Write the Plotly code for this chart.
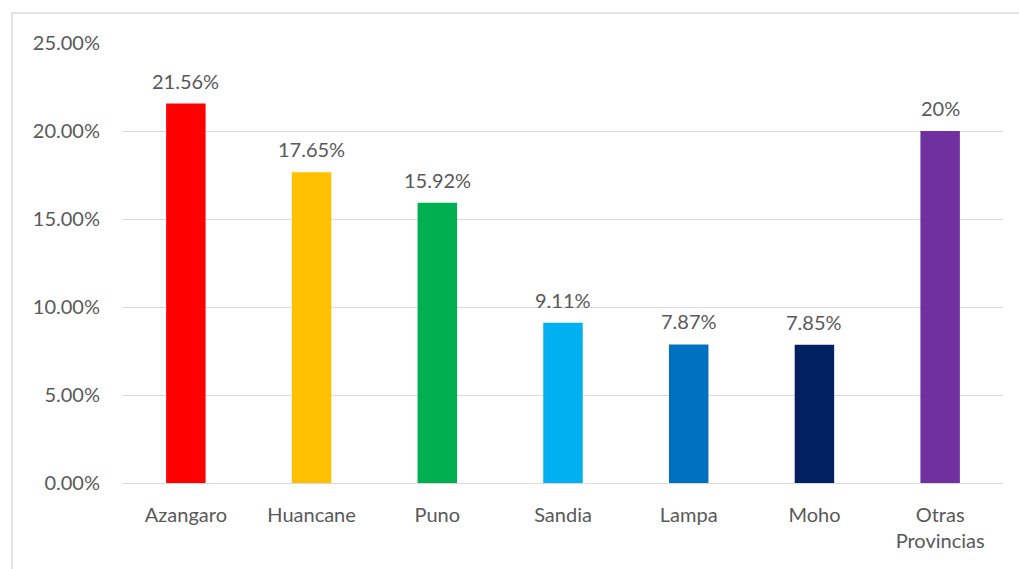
import plotly.graph_objects as go

categories = ["Azangaro", "Huancane", "Puno", "Sandia", "Lampa", "Moho", "Otras<br>Provincias"]
values = [21.56, 17.65, 15.92, 9.11, 7.87, 7.85, 20.0]
value_labels = ["21.56%", "17.65%", "15.92%", "9.11%", "7.87%", "7.85%", "20%"]
colors = ["#FF0000", "#FFC000", "#00B050", "#00B0F0", "#0070C0", "#002060", "#7030A0"]
y_ticks = [0, 5, 10, 15, 20, 25]
y_tick_labels = ["0.00%", "5.00%", "10.00%", "15.00%", "20.00%", "25.00%"]

FONT = "Lato, Open Sans, sans-serif"
GREY = "#595959"
FS = 20

fig = go.Figure(go.Bar(
    x=categories,
    y=values,
    marker=dict(color=colors, line=dict(width=0)),
    hoverinfo="x+y",
))

for c, v, t in zip(categories, values, value_labels):
    fig.add_annotation(
        x=c, y=v, text=t, showarrow=False,
        yanchor="bottom", yshift=9,
        font=dict(family=FONT, size=FS, color=GREY),
    )

fig.update_layout(
    width=1019, height=569,
    margin=dict(l=123, r=16, t=43, b=86),
    paper_bgcolor="white", plot_bgcolor="white",
    bargap=0.686,
    showlegend=False,
    font=dict(family=FONT, size=FS, color=GREY),
    xaxis=dict(
        showgrid=False, showline=False, zeroline=False,
        ticks="", ticklabelstandoff=18,
        tickfont=dict(family=FONT, size=FS, color=GREY),
    ),
    yaxis=dict(
        range=[0, 25], tickvals=y_ticks, ticktext=y_tick_labels,
        showgrid=True, gridcolor="#D9D9D9", gridwidth=1,
        zeroline=True, zerolinecolor="#D9D9D9", zerolinewidth=1,
        showline=False, ticks="", ticklabelstandoff=22,
        tickfont=dict(family=FONT, size=FS, color=GREY),
    ),
    shapes=[dict(
        type="rect", xref="paper", yref="paper",
        x0=(12 - 123) / 880, x1=1.05, y0=-0.3, y1=(483 - 13) / 440,
        line=dict(color="#D9D9D9", width=1.5), fillcolor="rgba(0,0,0,0)",
        layer="below",
    )],
)

fig.write_html("out.html")
